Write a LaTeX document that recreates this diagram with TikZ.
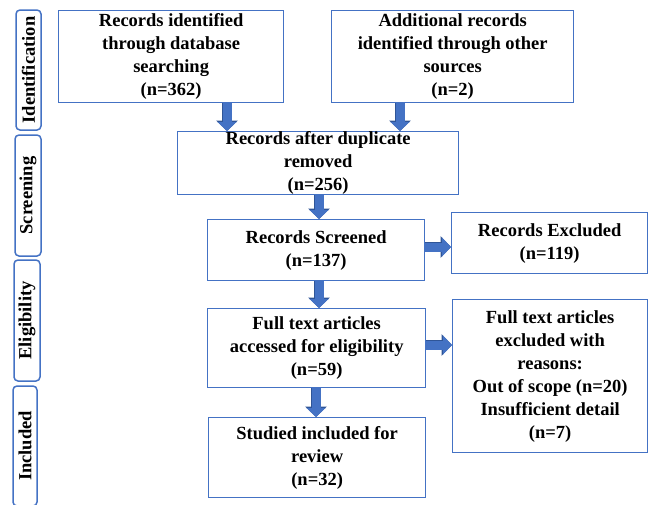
\documentclass[tikz,border=0pt]{standalone}
\usepackage{fontspec}
\setmainfont{Liberation Serif}
\usetikzlibrary{arrows.meta}
\definecolor{bblue}{HTML}{4472C4}
\definecolor{ablue}{HTML}{4472C4}
\definecolor{adark}{HTML}{2F5597}
\begin{document}
\begin{tikzpicture}[x=1pt,y=-1pt,
  txt/.style={font=\bfseries\fontsize{18.5}{23}\selectfont},
  box/.style={txt, draw=bblue, line width=1.3pt, inner sep=0pt, align=center, anchor=north west},
  phase/.style={txt, draw=bblue, line width=1.5pt, rounded corners=4pt, inner sep=0pt, rotate=90},
  blockarr/.style={line width=9pt, draw=ablue, -{Triangle[width=18.5pt,length=9pt]},
    preaction={draw=adark, line width=10.6pt, -{Triangle[width=21pt,length=10.5pt]}}}]
\useasboundingbox (0,0) rectangle (648,504);
\clip (0,0) rectangle (648,504);
% phase labels
\node[phase, minimum width=120, minimum height=25] (p1) at (28.5,70) {Identification};
\node[phase, minimum width=121, minimum height=26] (p2) at (28,195.5) {Screening};
\node[phase, minimum width=121, minimum height=26] (p3) at (27,320.5) {Eligibility};
\node[phase, minimum width=120, minimum height=24] (p4) at (25,446) {Included};
% boxes
\node[box, minimum width=225, minimum height=92] (b1) at (58,10) {Records identified\\through database\\searching\\(n=362)};
\node[box, minimum width=242, minimum height=92] (b2) at (331,10) {Additional records\\identified through other\\sources\\(n=2)};
\node[box, minimum width=281, minimum height=62] (b3) at (177,131) {Records after duplicate\\removed\\(n=256)};
\node[box, minimum width=217, minimum height=61] (b4) at (207,219) {Records Screened\\(n=137)};
\node[box, minimum width=196, minimum height=61] (b5) at (451,212) {Records Excluded\\(n=119)};
\node[box, minimum width=218, minimum height=79] (b6) at (207,308) {Full text articles\\accessed for eligibility\\(n=59)};
\node[box, minimum width=195, minimum height=153] (b7) at (452,299) {Full text articles\\excluded with\\reasons:\\Out of scope (n=20)\\Insufficient detail\\(n=7)};
\node[box, minimum width=217, minimum height=80] (b8) at (208,417) {Studied included for\\review\\(n=32)};
% arrows
\coordinate (a1) at (227,0);
\coordinate (a2) at (400,0);
\coordinate (a3) at (319,0);
\coordinate (a5) at (316,0);
\coordinate (h1) at (0,247);
\coordinate (h2) at (0,345);
\draw[blockarr] (a1 |- b1.south) -- (a1 |- b3.north);
\draw[blockarr] (a2 |- b2.south) -- (a2 |- b3.north);
\draw[blockarr] (a3 |- b3.south) -- (a3 |- b4.north);
\draw[blockarr] (a3 |- b4.south) -- (a3 |- b6.north);
\draw[blockarr] (a5 |- b6.south) -- (a5 |- b8.north);
\draw[blockarr] (h1 -| b4.east) -- (h1 -| b5.west);
\draw[blockarr] (h2 -| b6.east) -- (h2 -| b7.west);
\end{tikzpicture}
\end{document}
